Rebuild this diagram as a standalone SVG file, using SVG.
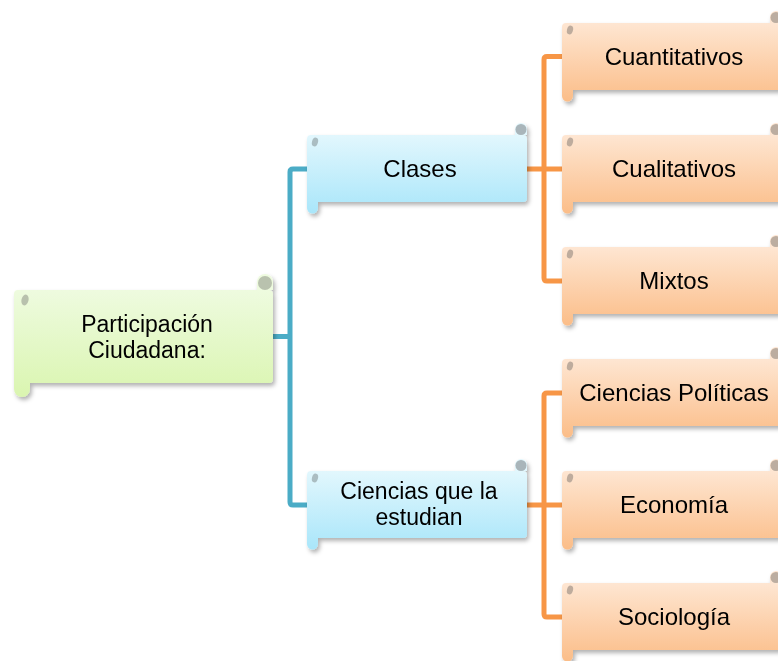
<svg xmlns="http://www.w3.org/2000/svg" width="778" height="661" viewBox="0 0 778 661">
<defs>
<linearGradient id="gG" x1="0" y1="0" x2="0" y2="1"><stop offset="0" stop-color="#eefbdf"/><stop offset="1" stop-color="#daf5b0"/></linearGradient>
<linearGradient id="gB" x1="0" y1="0" x2="0" y2="1"><stop offset="0" stop-color="#e2f7fd"/><stop offset="1" stop-color="#a9e6fa"/></linearGradient>
<linearGradient id="gO" x1="0" y1="0" x2="0" y2="1"><stop offset="0" stop-color="#fee6d2"/><stop offset="1" stop-color="#fbbd88"/></linearGradient>
<filter id="sh" x="-10%" y="-20%" width="125%" height="150%"><feDropShadow dx="2" dy="3" stdDeviation="2" flood-color="#000" flood-opacity="0.3"/></filter>
</defs>
<style>
text{font-family:"Liberation Sans",Arial,sans-serif;font-size:24px;fill:#000;text-anchor:middle}
text.m{font-size:23px}
.c{fill:none;stroke-width:5;stroke-linejoin:round}
.t{stroke:#4bacc6}
.o{stroke:#f79646}
.dot{opacity:0.75}
</style>
<g id="connectors">
<path class="c t" d="M272,336.5 H290 M308,169 H293 Q290,169 290,172 V502 Q290,505 293,505 H308"/>
<path class="c o" d="M526,169 H563 M563,56.5 H547 Q544,56.5 544,59.5 V278 Q544,281 547,281 H563"/>
<path class="c o" d="M526,505 H563 M563,393 H547 Q544,393 544,396 V614 Q544,617 547,617 H563"/>
</g>
<g id="root" transform="translate(14,290)" filter="url(#sh)">
<path d="M243,0 V-8 A8,8 0 0 1 259,-8 V0 Z" fill="#eefbdf"/>
<circle cx="251" cy="-7" r="7" fill="#b9c2ae"/>
<path d="M4,0 H255 Q259,0 259,4 V89 Q259,93 255,93 H16 V99 A8,8 0 0 1 0,99 V4 Q0,0 4,0 Z" fill="url(#gG)"/>
<ellipse class="dot" cx="11" cy="10" rx="3.5" ry="5.5" transform="rotate(15 11 10)" fill="#a7ad9d"/>
<text class="m" x="133" y="42">Participación</text>
<text class="m" x="133" y="68">Ciudadana:</text>
</g>
<g id="clases" transform="translate(307,135)" filter="url(#sh)">
<path d="M208,0 V-6 A6,6 0 0 1 220,-6 V0 Z" fill="#e2f7fd"/>
<circle cx="214" cy="-5.5" r="5.5" fill="#a9b5ba"/>
<path d="M4,0 H216 Q220,0 220,4 V63 Q220,67 216,67 H11 V73 A5.5,5.5 0 0 1 0,73 V4 Q0,0 4,0 Z" fill="url(#gB)"/>
<ellipse class="dot" cx="8" cy="7" rx="3" ry="4.5" transform="rotate(15 8 7)" fill="#9aa9ae"/>
<text x="113" y="42">Clases</text>
</g>
<g id="ciencias" transform="translate(307,471)" filter="url(#sh)">
<path d="M208,0 V-6 A6,6 0 0 1 220,-6 V0 Z" fill="#e2f7fd"/>
<circle cx="214" cy="-5.5" r="5.5" fill="#a9b5ba"/>
<path d="M4,0 H216 Q220,0 220,4 V63 Q220,67 216,67 H11 V73 A5.5,5.5 0 0 1 0,73 V4 Q0,0 4,0 Z" fill="url(#gB)"/>
<ellipse class="dot" cx="8" cy="7" rx="3" ry="4.5" transform="rotate(15 8 7)" fill="#9aa9ae"/>
<text class="m" x="112" y="28">Ciencias que la</text>
<text class="m" x="112" y="54">estudian</text>
</g>
<g id="cuantitativos" transform="translate(562,23)" filter="url(#sh)">
<path d="M208,0 V-6 A6,6 0 0 1 220,-6 V0 Z" fill="#fee6d2"/>
<circle cx="214" cy="-5.5" r="5.5" fill="#bcada0"/>
<path d="M4,0 H216 Q220,0 220,4 V63 Q220,67 216,67 H11 V73 A5.5,5.5 0 0 1 0,73 V4 Q0,0 4,0 Z" fill="url(#gO)"/>
<ellipse class="dot" cx="8" cy="7" rx="3" ry="4.5" transform="rotate(15 8 7)" fill="#a89a8e"/>
<text x="112" y="42">Cuantitativos</text>
</g>
<g id="cualitativos" transform="translate(562,135)" filter="url(#sh)">
<path d="M208,0 V-6 A6,6 0 0 1 220,-6 V0 Z" fill="#fee6d2"/>
<circle cx="214" cy="-5.5" r="5.5" fill="#bcada0"/>
<path d="M4,0 H216 Q220,0 220,4 V63 Q220,67 216,67 H11 V73 A5.5,5.5 0 0 1 0,73 V4 Q0,0 4,0 Z" fill="url(#gO)"/>
<ellipse class="dot" cx="8" cy="7" rx="3" ry="4.5" transform="rotate(15 8 7)" fill="#a89a8e"/>
<text x="112" y="42">Cualitativos</text>
</g>
<g id="mixtos" transform="translate(562,247)" filter="url(#sh)">
<path d="M208,0 V-6 A6,6 0 0 1 220,-6 V0 Z" fill="#fee6d2"/>
<circle cx="214" cy="-5.5" r="5.5" fill="#bcada0"/>
<path d="M4,0 H216 Q220,0 220,4 V63 Q220,67 216,67 H11 V73 A5.5,5.5 0 0 1 0,73 V4 Q0,0 4,0 Z" fill="url(#gO)"/>
<ellipse class="dot" cx="8" cy="7" rx="3" ry="4.5" transform="rotate(15 8 7)" fill="#a89a8e"/>
<text x="112" y="42">Mixtos</text>
</g>
<g id="politicas" transform="translate(562,359)" filter="url(#sh)">
<path d="M208,0 V-6 A6,6 0 0 1 220,-6 V0 Z" fill="#fee6d2"/>
<circle cx="214" cy="-5.5" r="5.5" fill="#bcada0"/>
<path d="M4,0 H216 Q220,0 220,4 V63 Q220,67 216,67 H11 V73 A5.5,5.5 0 0 1 0,73 V4 Q0,0 4,0 Z" fill="url(#gO)"/>
<ellipse class="dot" cx="8" cy="7" rx="3" ry="4.5" transform="rotate(15 8 7)" fill="#a89a8e"/>
<text x="112" y="42">Ciencias Políticas</text>
</g>
<g id="economia" transform="translate(562,471)" filter="url(#sh)">
<path d="M208,0 V-6 A6,6 0 0 1 220,-6 V0 Z" fill="#fee6d2"/>
<circle cx="214" cy="-5.5" r="5.5" fill="#bcada0"/>
<path d="M4,0 H216 Q220,0 220,4 V63 Q220,67 216,67 H11 V73 A5.5,5.5 0 0 1 0,73 V4 Q0,0 4,0 Z" fill="url(#gO)"/>
<ellipse class="dot" cx="8" cy="7" rx="3" ry="4.5" transform="rotate(15 8 7)" fill="#a89a8e"/>
<text x="112" y="42">Economía</text>
</g>
<g id="sociologia" transform="translate(562,583)" filter="url(#sh)">
<path d="M208,0 V-6 A6,6 0 0 1 220,-6 V0 Z" fill="#fee6d2"/>
<circle cx="214" cy="-5.5" r="5.5" fill="#bcada0"/>
<path d="M4,0 H216 Q220,0 220,4 V63 Q220,67 216,67 H11 V73 A5.5,5.5 0 0 1 0,73 V4 Q0,0 4,0 Z" fill="url(#gO)"/>
<ellipse class="dot" cx="8" cy="7" rx="3" ry="4.5" transform="rotate(15 8 7)" fill="#a89a8e"/>
<text x="112" y="42">Sociología</text>
</g>
</svg>
